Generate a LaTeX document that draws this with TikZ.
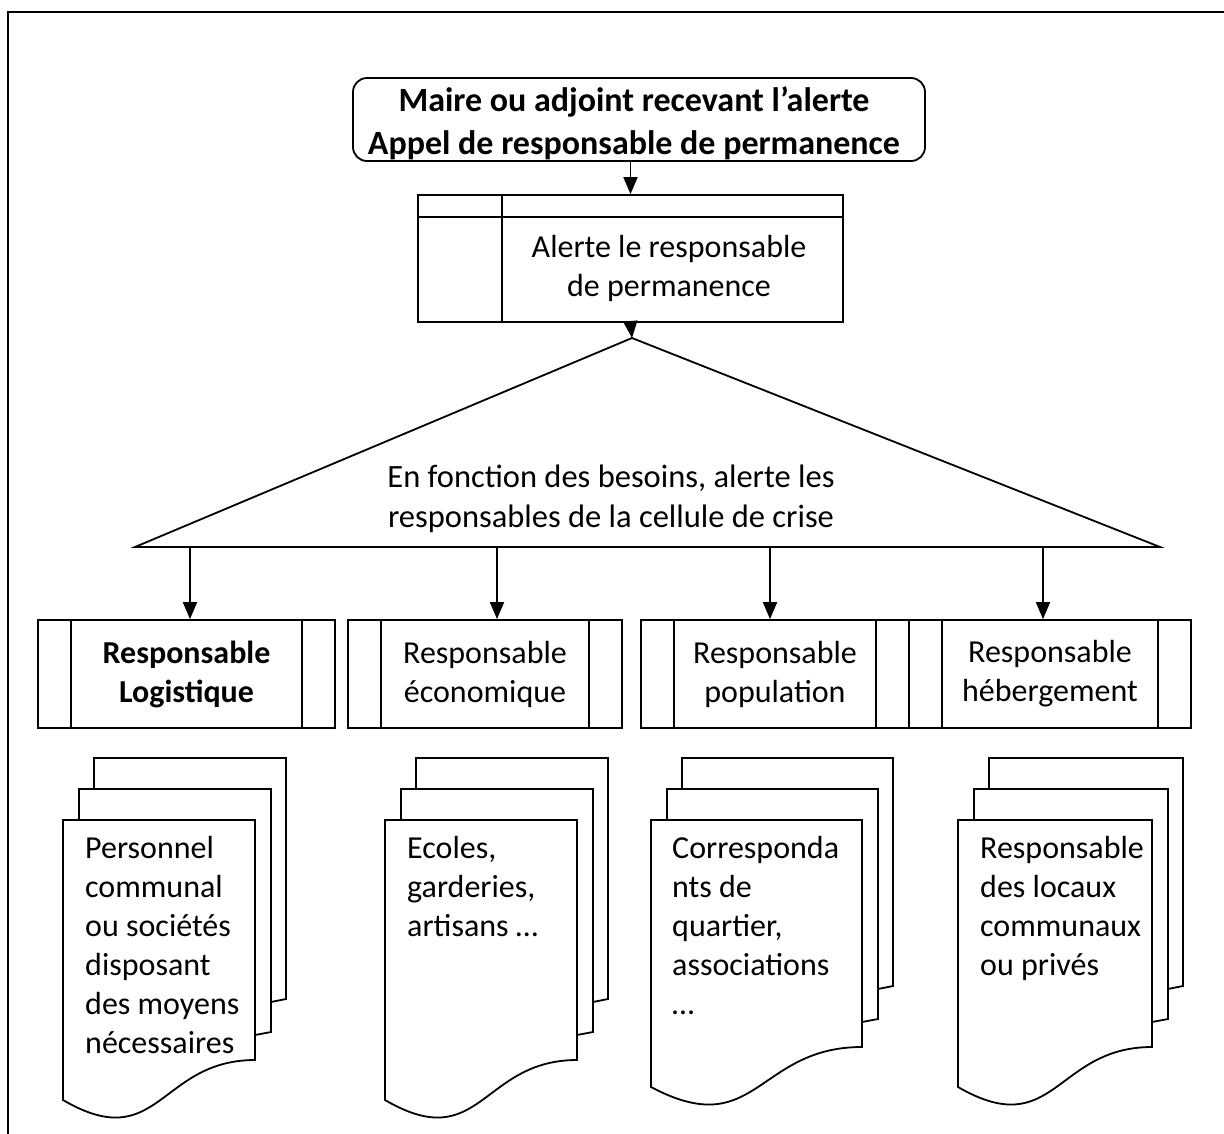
\documentclass[tikz,border=0pt]{standalone}
\usepackage{fontspec}
\setmainfont{Carlito}
\usetikzlibrary{arrows.meta}
\newcommand\mdocshape[5]{%
  % #1 x0, #2 x1, #3 top, #4 yR (right end of wave), #5 yL (left end of wave)
  \pgfmathsetmacro\mdw{#2-#1}%
  \pgfmathsetmacro\mdcx{#1+0.5*\mdw}%
  \pgfmathsetmacro\mdcy{#4+2.4*(#5-#4)}%
  \draw[page] (#1+31,#3-62) -- (#2+31,#3-62) -- (#2+31,#4-61) -- (#2+16,#4-58) -- (#2+16,#3-21) -- (#1+31,#3-21) -- cycle;
  \draw[page] (#1+16,#3-31) -- (#2+16,#3-31) -- (#2+16,#4-28) -- (#2,#4-25) -- (#2,#3+10) -- (#1+16,#3+10) -- cycle;
  \draw[page] (#1,#3) -- (#2,#3) -- (#2,#4) .. controls (\mdcx,#4) and (\mdcx,\mdcy) .. (#1,#5) -- cycle;
}
\begin{document}
\begin{tikzpicture}[x=1pt,y=-1pt]
\tikzset{
  txt/.style={font=\fontsize{32}{39}\selectfont, align=center, inner sep=0pt},
  ln/.style={line width=1.8pt},
  arr/.style={-{Triangle[length=17pt,width=14pt]}, line width=1.8pt},
  page/.style={draw, fill=white, line width=1.8pt, line join=miter},
  proc/.style={draw, line width=1.8pt, minimum height=108pt, inner sep=0pt}
}
\useasboundingbox (0,0) rectangle (1224,1133);
\clip (0,0) rectangle (1224,1133);
% outer frame
\draw[line width=2.2pt] (8,1150) -- (8,12) -- (1240,12);

% title
\node[draw, ln, rounded corners=14pt, minimum width=572pt, minimum height=83pt, inner sep=0pt] (title) at (639,119.5) {};
\node[txt, font=\bfseries\fontsize{34}{43}\selectfont] (titletext) at (634,123) {Maire ou adjoint recevant l’alerte\\Appel de responsable de permanence};

% internal storage
\node[draw, ln, minimum width=425pt, minimum height=127pt, inner sep=0pt] (store) at (630.5,258.5) {};
\draw[ln] ([yshift=-23pt]store.north west) -- ([yshift=-23pt]store.north east);
\draw[ln] ([xshift=85pt]store.north west) -- ([xshift=85pt]store.south west);
\node[txt] (storetext) at (669,268) {Alerte le responsable\\de permanence};

\draw[arr] (store.north |- title.south) -- (store.north);

% triangle
\coordinate (apex) at (632,338);
\coordinate (bl) at (135,547);
\coordinate (br) at (1160,547);
\draw[ln, line join=miter] (apex) -- (bl) -- (br) -- cycle;
\node[txt, font=\fontsize{32.5}{40}\selectfont] (tritext) at (611,499) {En fonction des besoins, alerte les\\responsables de la cellule de crise};
\draw[arr] (store.south) -- (apex);

% predefined process boxes
\node[proc, minimum width=297pt] (p1) at (186.5,674) {};
\node[proc, minimum width=274pt] (p2) at (485,674) {};
\node[proc, minimum width=268pt] (p3) at (775,674) {};
\node[proc, minimum width=282pt] (p4) at (1050,674) {};
\foreach \p in {p1,p2,p3,p4}{
  \draw[ln] ([xshift=34pt]\p.north west) -- ([xshift=34pt]\p.south west);
  \draw[ln] ([xshift=-34pt]\p.north east) -- ([xshift=-34pt]\p.south east);
}
\node[txt, font=\bfseries\fontsize{32}{39}\selectfont] (t1) at (p1) {Responsable\\Logistique};
\node[txt] (t2) at (p2) {Responsable\\économique};
\node[txt] (t3) at (p3) {Responsable\\population};
\node[txt] (t4) at (p4) {Responsable\\hébergement};

\coordinate (a1) at (190,547);
\coordinate (a2) at (497,547);
\coordinate (a3) at (770,547);
\coordinate (a4) at (1043,547);
\draw[arr] (a1) -- (a1 |- p1.north);
\draw[arr] (a2) -- (a2 |- p2.north);
\draw[arr] (a3) -- (a3 |- p3.north);
\draw[arr] (a4) -- (a4 |- p4.north);

% multidocuments
\mdocshape{63}{255}{820}{1060}{1100}
\mdocshape{385}{577}{820}{1060}{1100}
\mdocshape{651}{862}{820}{1047}{1087}
\mdocshape{958}{1152}{820}{1047}{1087}

% text nodes: base anchor = baseline of the last line
\node[txt, align=left, anchor=base west] (d1) at (85,1053) {Personnel\\communal\\ou sociétés\\disposant\\des moyens\\nécessaires};
\node[txt, align=left, anchor=base west] (d2) at (407,936) {Ecoles,\\garderies,\\artisans …};
\node[txt, align=left, anchor=base west] (d3) at (672,1014) {Corresponda\\nts de\\quartier,\\associations\\…};
\node[txt, align=left, anchor=base west] (d4) at (980,975) {Responsable\\des locaux\\communaux\\ou privés};
\end{tikzpicture}
\end{document}
